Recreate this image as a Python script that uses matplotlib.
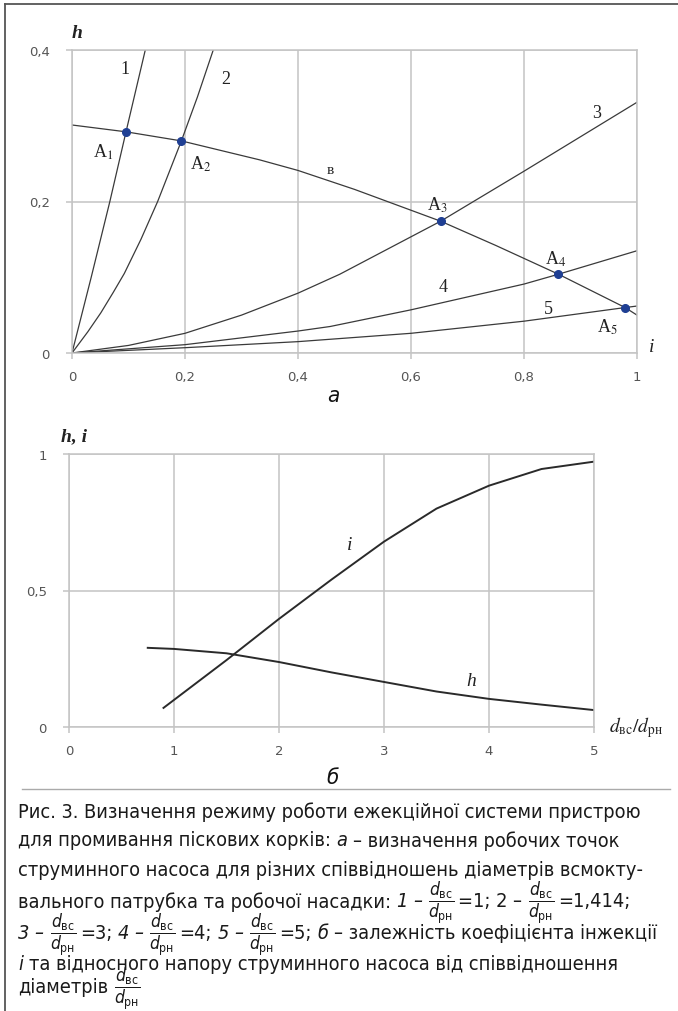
import matplotlib
matplotlib.use("Agg")
import matplotlib.pyplot as plt
from matplotlib.lines import Line2D
from matplotlib import font_manager

# --- data: a) working points of the jet pump ---
i_b = [0, 0.0956, 0.1936, 0.26, 0.332, 0.4, 0.5, 0.6525, 0.75, 0.861, 0.979, 1.0]
h_b = [0.301, 0.292, 0.280, 0.268, 0.255, 0.241, 0.216, 0.174, 0.142, 0.104, 0.060, 0.050]

i_1 = [0, 0.034, 0.067, 0.0956, 0.1297]
h_1 = [0, 0.1, 0.2, 0.292, 0.4]
i_2 = [0, 0.028, 0.051, 0.073, 0.0926, 0.122, 0.1516, 0.1936, 0.222, 0.25]
h_2 = [0, 0.028, 0.053, 0.08, 0.105, 0.15, 0.2, 0.280, 0.338, 0.4]
i_3 = [0, 0.1, 0.2, 0.3, 0.4, 0.474, 0.6525, 0.8, 1.0]
h_3 = [0, 0.010, 0.026, 0.050, 0.079, 0.104, 0.174, 0.240, 0.331]
i_4 = [0, 0.2, 0.4, 0.457, 0.6, 0.8, 0.861, 1.0]
h_4 = [0, 0.011, 0.029, 0.035, 0.057, 0.091, 0.104, 0.135]
i_5 = [0, 0.2, 0.4, 0.6, 0.8, 0.979, 1.0]
h_5 = [0, 0.007, 0.015, 0.026, 0.042, 0.060, 0.062]

pts_i = [0.0956, 0.1936, 0.6525, 0.861, 0.979]
pts_h = [0.292, 0.280, 0.174, 0.104, 0.060]

# --- data: б) i and h versus d_вс/d_рн ---
d_i = [0.9, 1.5, 2.0, 2.5, 3.0, 3.5, 4.0, 4.5, 5.0]
i_d = [0.07, 0.245, 0.396, 0.54, 0.679, 0.80, 0.884, 0.945, 0.972]
d_h = [0.75, 1.0, 1.5, 2.0, 2.5, 3.0, 3.5, 4.0, 4.5, 5.0]
h_d = [0.29, 0.286, 0.27, 0.238, 0.20, 0.165, 0.13, 0.103, 0.082, 0.062]

top_xticks = [0, 0.2, 0.4, 0.6, 0.8, 1]
top_xlabels = ["0", "0,2", "0,4", "0,6", "0,8", "1"]
top_yticks = [0, 0.2, 0.4]
top_ylabels = ["0", "0,2", "0,4"]
bot_xticks = [0, 1, 2, 3, 4, 5]
bot_yticks = [0, 0.5, 1]
bot_ylabels = ["0", "0,5", "1"]

# pick a narrow sans font for the caption if one is installed
cap_font, cap_stretch = "Liberation Sans", "normal"
for f in font_manager.fontManager.ttflist:
    n = f.name
    if f.style != "normal" or f.weight not in (400, "normal", "regular"):
        continue
    if any(k in n for k in ("Narrow", "Condensed")) and "Extra" not in n:
        cap_font, cap_stretch = n, "normal"
        break
    if str(f.stretch) in ("condensed", "semi-condensed") and \
            n in ("Noto Sans", "Open Sans", "Roboto", "DejaVu Sans"):
        cap_font, cap_stretch = n, str(f.stretch)
        break

plt.rcParams["mathtext.fontset"] = "custom"
suffix = "" if cap_stretch == "normal" else ":stretch=" + cap_stretch
plt.rcParams["mathtext.rm"] = cap_font + suffix
plt.rcParams["mathtext.it"] = cap_font + ":italic" + suffix
plt.rcParams["mathtext.bf"] = cap_font + ":bold" + suffix

W, H = 678, 1012
fig = plt.figure(figsize=(W / 100, H / 100), dpi=100)

grid_c = "#c4c4c4"
line_c = "#3a3a3a"
tick_c = "#555555"
serif = "Liberation Serif"


def px(x, y):
    return x / W, 1 - y / H


def style_axes(ax):
    ax.grid(True, color=grid_c, linewidth=1.1)
    for s in ax.spines.values():
        s.set_color(grid_c)
        s.set_linewidth(1.1)
    ax.tick_params(length=4, width=1.1, color=grid_c, labelcolor=tick_c,
                   labelsize=9.5, pad=8)
    ax.set_axisbelow(True)


# top chart
ax1 = fig.add_axes([72 / W, 1 - 354 / H, 565 / W, 303 / H])
style_axes(ax1)
ax1.set_xlim(0, 1)
ax1.set_ylim(0, 0.4)
ax1.set_xticks(top_xticks, top_xlabels)
ax1.set_yticks(top_yticks, top_ylabels)
ax1.tick_params(axis="y", pad=12)
for xs, ys in [(i_b, h_b), (i_1, h_1), (i_2, h_2), (i_3, h_3), (i_4, h_4), (i_5, h_5)]:
    ax1.plot(xs, ys, color=line_c, linewidth=0.9)
ax1.plot(pts_i, pts_h, "o", color="#1f3f93", markersize=5.5, zorder=5)

lab = dict(family=serif, fontsize=13, color="#222222", ha="center", va="center")
fig.text(*px(125, 70), "1", **lab)
fig.text(*px(226, 80), "2", **lab)
fig.text(*px(597, 113), "3", **lab)
fig.text(*px(443, 288), "4", **lab)
fig.text(*px(548, 309), "5", **lab)
fig.text(*px(330, 171), "в", family=serif, fontsize=11, color="#222222",
         ha="center", va="center")
for (x, y), k in zip([(103, 152), (201, 164), (437, 205), (556, 259), (607, 327)],
                     "12345"):
    fig.text(*px(x, y), "A$_{" + k + "}$", math_fontfamily="stix", **lab)
fig.text(*px(77, 34), "h", family=serif, fontsize=14, style="italic",
         weight="bold", color="#222222", ha="center", va="center")
fig.text(*px(652, 348), "i", family=serif, fontsize=14, style="italic",
         color="#222222", ha="center", va="center")
fig.text(*px(333, 396), "а", family=[cap_font, "DejaVu Sans"], fontstretch=cap_stretch,
         fontsize=16, style="italic", color="#111111", ha="center", va="center")

# bottom chart
ax2 = fig.add_axes([69 / W, 1 - 728 / H, 525 / W, 273 / H])
style_axes(ax2)
ax2.set_xlim(0, 5)
ax2.set_ylim(0, 1)
ax2.set_xticks(bot_xticks, [str(v) for v in bot_xticks])
ax2.set_yticks(bot_yticks, bot_ylabels)
ax2.tick_params(axis="y", pad=12)
ax2.plot(d_i, i_d, color="#2a2a2a", linewidth=1.4)
ax2.plot(d_h, h_d, color="#2a2a2a", linewidth=1.4)

fig.text(*px(350, 545), "i", family=serif, fontsize=14, style="italic",
         color="#222222", ha="center", va="center")
fig.text(*px(471, 682), "h", family=serif, fontsize=14, style="italic",
         color="#222222", ha="center", va="center")
fig.text(*px(74, 437), "h, i", family=serif, fontsize=14, style="italic",
         weight="bold", color="#222222", ha="center", va="center")
fig.text(*px(636, 728), r"$d_{\mathrm{вс}}/d_{\mathrm{рн}}$", math_fontfamily="stix",
         fontsize=14, color="#222222", ha="center", va="center")
fig.text(*px(333, 778), "б", family=[cap_font, "DejaVu Sans"], fontstretch=cap_stretch,
         fontsize=16, style="italic", color="#111111", ha="center", va="center")

# frame and separator
fig.add_artist(Line2D([5 / W, 5 / W], [0, 1 - 5 / H], color="#555555", linewidth=1.3))
fig.add_artist(Line2D([5 / W, 1], [1 - 5 / H, 1 - 5 / H], color="#555555", linewidth=1.3))
fig.add_artist(Line2D([22 / W, 670 / W], [1 - 790 / H, 1 - 790 / H], color="#aaaaaa",
                      linewidth=1.0))

# caption, laid out piece by piece so the fractions can get their own size
cap_kw = dict(family=[cap_font, "DejaVu Sans"], fontstretch=cap_stretch,
              color="#1a1a1a", ha="left", va="center")
renderer = fig.canvas.get_renderer()


def text_width(t):
    return t.get_window_extent(renderer=renderer).width


# size the caption so that its first line spans the same width as the reference
probe = fig.text(0, 0.5, "Рис. 3. Визначення режиму роботи ежекційної системи пристрою",
                 fontsize=15, **cap_kw)
cap_size = 15 * 625 / text_width(probe)
probe.remove()
p1 = fig.text(0, 0.5, "a a", fontsize=cap_size, **cap_kw)
p2 = fig.text(0, 0.5, "aa", fontsize=cap_size, **cap_kw)
space = text_width(p1) - text_width(p2)
p1.remove()
p2.remove()

FR = "FRAC"
IT = "it"
caption = [
    (812, ["Рис. 3. Визначення режиму роботи ежекційної системи пристрою"]),
    (841, ["для промивання піскових корків:", (IT, "а"), "– визначення робочих точок"]),
    (870, ["струминного насоса для різних співвідношень діаметрів всмокту-"]),
    (902, ["вального патрубка та робочої насадки:", (IT, "1 –"), FR, "=1; 2 –", FR,
           "=1,414;"]),
    (934, [(IT, "3 –"), FR, "=3;", (IT, "4 –"), FR, "=4;", (IT, "5 –"), FR, "=5;",
           (IT, "б"), "– залежність коефіцієнта інжекції"]),
    (964, [(IT, "і"), "та відносного напору струминного насоса від співвідношення"]),
    (988, ["діаметрів", FR]),
]
frac = r"$\dfrac{d_{\mathrm{вс}}}{d_{\mathrm{рн}}}$"
for y, pieces in caption:
    x = 18
    for piece in pieces:
        if piece == FR:
            t = fig.text(*px(x, y + 1), frac, fontsize=cap_size * 0.88, **cap_kw)
            x += text_width(t) + space * 0.6
            continue
        if isinstance(piece, tuple):
            t = fig.text(*px(x, y), piece[1], fontsize=cap_size, style="italic", **cap_kw)
        else:
            t = fig.text(*px(x, y), piece, fontsize=cap_size, **cap_kw)
        x += text_width(t) + space

fig.savefig("out.png", dpi=100)
